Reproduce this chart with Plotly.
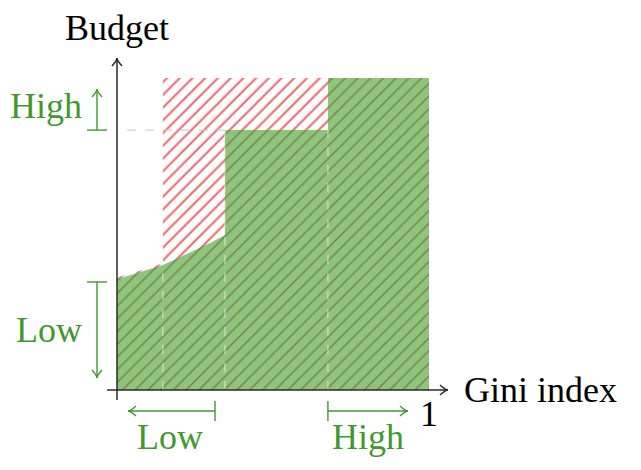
import plotly.graph_objects as go

# ---------------- data ----------------
curve_x = [0.0, 0.05, 0.10, 0.147, 0.20, 0.25, 0.30, 0.346]
curve_y = [0.356, 0.370, 0.385, 0.401, 0.425, 0.448, 0.472, 0.497]
mid_step_x = [0.346, 0.676]
mid_step_y = 0.833
top_step_x = [0.676, 1.0]
top_step_y = 1.0
red_left_x = 0.147
cut_x = [0.147, 0.346, 0.676]
axis_titles = ["Gini index", "Budget"]
level_labels = ["Low", "High"]

# ---------------- geometry of canvas ----------------
BODY = 8  # default page margin
W, H = 641 - BODY, 470 - BODY
PX = 312.0  # pixels per data unit
OX, OY = 117 - BODY, 390 - BODY
xr = [-OX / PX, (W - OX) / PX]
yr = [-(H - OY) / PX, OY / PX]

def dx_px(p):  # page pixel x -> data
    return (p - 117) / PX

def dy_px(p):  # page pixel y -> data
    return (390 - p) / PX

GREEN_TXT = "#41992e"
GREEN_FILL = "#8dc57d"
OLIVE = "#78824a"
RED = "#ee6e6e"
FONT = "Liberation Serif"
FS = 36

fig = go.Figure()

# red hatched region
rx = [0.0] + [x for x in curve_x if x <= red_left_x] + [red_left_x, 1.0, 1.0, 0.0]
ry = [0.0] + [y + 0.005 for x, y in zip(curve_x, curve_y) if x <= red_left_x] + [top_step_y, top_step_y, 0.0, 0.0]
fig.add_trace(go.Scatter(x=rx, y=ry, mode="lines", line=dict(width=0), fill="toself",
                         fillcolor="white",
                         fillpattern=dict(shape="/", fgcolor=RED, bgcolor="white", fgopacity=1,
                                          size=9, solidity=0.24, fillmode="replace"),
                         hoverinfo="skip", showlegend=False))

# green region
gx = [0.0] + curve_x + [mid_step_x[0], mid_step_x[1], top_step_x[0], top_step_x[1], top_step_x[1], 0.0]
gy = [0.0] + curve_y + [mid_step_y, mid_step_y, top_step_y, top_step_y, 0.0, 0.0]
fig.add_trace(go.Scatter(x=gx, y=gy, mode="lines", line=dict(width=0), fill="toself",
                         fillcolor=GREEN_FILL,
                         fillpattern=dict(shape="/", fgcolor=OLIVE, bgcolor=GREEN_FILL, fgopacity=1,
                                          size=9, solidity=0.17, fillmode="replace"),
                         hoverinfo="skip", showlegend=False))

def cy(x):
    for i in range(len(curve_x) - 1):
        if curve_x[i] <= x <= curve_x[i + 1]:
            t = (x - curve_x[i]) / (curve_x[i + 1] - curve_x[i])
            return curve_y[i] + t * (curve_y[i + 1] - curve_y[i])
    return curve_y[-1]

shapes = []
# vertical dashed cut lines
tops = [cy(cut_x[0]), mid_step_y, mid_step_y]
for x, t in zip(cut_x, tops):
    shapes.append(dict(type="line", x0=x, x1=x, y0=0, y1=t,
                       line=dict(color="rgba(235,235,235,0.7)", width=1.2, dash="dash")))
# horizontal dashed line
shapes.append(dict(type="line", x0=10 / PX, x1=cut_x[1], y0=mid_step_y, y1=mid_step_y,
                   line=dict(color="#cfcfcf", width=1.3, dash="dash")))

def arrow(x0, y0, x1, y1, color, width=1.4, bar=False):
    shapes.append(dict(type="line", x0=x0, y0=y0, x1=x1, y1=y1, line=dict(color=color, width=width)))
    dx, dy = x1 - x0, y1 - y0
    L = (dx * dx + dy * dy) ** 0.5
    ux, uy = dx / L, dy / L
    px_, py_ = -uy, ux
    a = 8 / PX
    b = 5 / PX
    p1 = (x1 - a * ux + b * px_, y1 - a * uy + b * py_)
    p2 = (x1 - a * ux - b * px_, y1 - a * uy - b * py_)
    shapes.append(dict(type="path",
                       path=f"M {p1[0]},{p1[1]} Q {x1 - 0.3*a*ux},{y1 - 0.3*a*uy} {x1},{y1} Q {x1 - 0.3*a*ux},{y1 - 0.3*a*uy} {p2[0]},{p2[1]}",
                       line=dict(color=color, width=width)))
    if bar:
        c = 10 / PX
        shapes.append(dict(type="line", x0=x0 + c * px_, y0=y0 + c * py_, x1=x0 - c * px_, y1=y0 - c * py_,
                           line=dict(color=color, width=width)))

AX = "#2a2a2a"
# axes
arrow(-10 / PX, 0, dx_px(448), 0, AX, 1.5)
arrow(0, -10 / PX, 0, dy_px(58), AX, 1.5)

# green range indicators
ax_y = dx_px(97)
arrow(ax_y, mid_step_y, ax_y, dy_px(89), GREEN_TXT, bar=True)
arrow(ax_y, dy_px(282), ax_y, dy_px(378), GREEN_TXT, bar=True)
bx_y = dy_px(411)
arrow(dx_px(215), bx_y, dx_px(128), bx_y, GREEN_TXT, bar=True)
arrow(cut_x[2], bx_y, dx_px(408), bx_y, GREEN_TXT, bar=True)

ann = [
    dict(x=0, y=dy_px(28), text=axis_titles[1], xanchor="center", yanchor="middle",
         font=dict(color="black")),
    dict(x=dx_px(462), y=0.0, text=axis_titles[0], xanchor="left", yanchor="middle",
         font=dict(color="black")),
    dict(x=1.0, y=dy_px(414), text="1", xanchor="center", yanchor="middle",
         font=dict(color="black")),
    dict(x=dx_px(84), y=dy_px(106), text=level_labels[1], xanchor="right", yanchor="middle",
         font=dict(color=GREEN_TXT)),
    dict(x=dx_px(84), y=dy_px(330), text=level_labels[0], xanchor="right", yanchor="middle",
         font=dict(color=GREEN_TXT)),
    dict(x=dx_px(170), y=dy_px(437), text=level_labels[0], xanchor="center", yanchor="middle",
         font=dict(color=GREEN_TXT)),
    dict(x=dx_px(368), y=dy_px(437), text=level_labels[1], xanchor="center", yanchor="middle",
         font=dict(color=GREEN_TXT)),
]
for a in ann:
    a.update(showarrow=False, xref="x", yref="y")
    a["font"].update(family=FONT, size=FS)

fig.update_layout(
    width=W, height=H, margin=dict(l=0, r=0, t=0, b=0),
    paper_bgcolor="white", plot_bgcolor="white",
    xaxis=dict(range=xr, visible=False, fixedrange=True),
    yaxis=dict(range=yr, visible=False, fixedrange=True),
    shapes=shapes, annotations=ann, showlegend=False,
)
fig.write_html("out.html")
